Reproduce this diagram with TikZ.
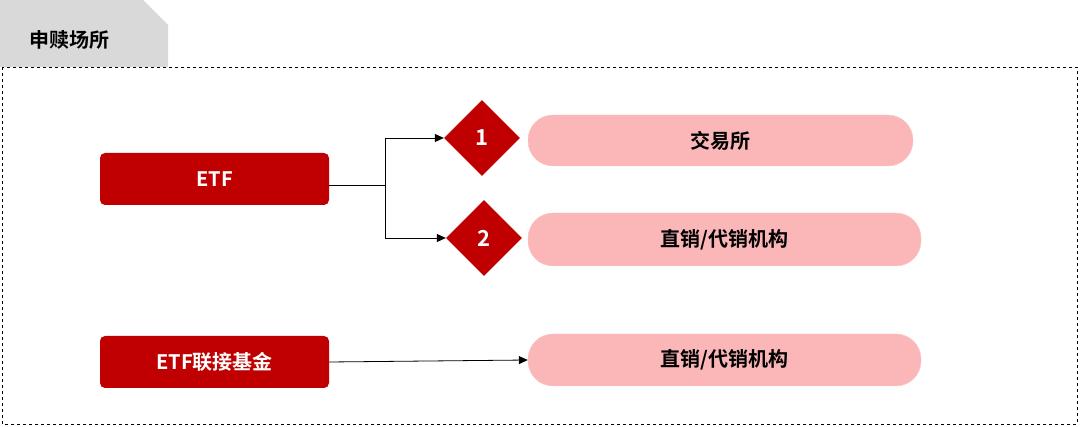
\documentclass[tikz,border=0pt]{standalone}
\usepackage{fontspec}
\setmainfont{Noto Sans CJK SC}[BoldFont={Noto Sans CJK SC Bold}]
\usetikzlibrary{shapes.geometric,arrows.meta}
\definecolor{dred}{HTML}{C00000}
\definecolor{lpink}{HTML}{FBB6B8}
\begin{document}
\begin{tikzpicture}[x=1pt,y=-1pt,
  redbox/.style={draw=none,fill=dred,rounded corners=5pt,text=white,font=\bfseries\fontsize{20}{24}\selectfont},
  pill/.style={fill=lpink,draw=lpink!80!white,rounded corners=25pt,font=\bfseries\fontsize{20}{24}\selectfont},
  dia/.style={diamond,fill=dred,draw=none,minimum width=76pt,minimum height=76pt,inner sep=0pt,text=white,font=\bfseries\fontsize{22}{26}\selectfont},
  conn/.style={-{Triangle[length=9pt,width=8pt]},line width=0.8pt}]
\useasboundingbox (0,0) rectangle (1080,427);
\fill[gray!30] (0,0) -- (143,0) -- (168,25) -- (168,67) -- (0,67) -- cycle;
\node[font=\bfseries\fontsize{20}{24}\selectfont,anchor=west] (tab) at (26,40) {申赎场所};
\draw[dashed,line width=0.6pt] (2,67) rectangle (1077,424);
\node[redbox,minimum width=229pt,minimum height=52pt] (etf) at (214.5,179) {ETF};
\node[redbox,minimum width=229pt,minimum height=52pt] (lj) at (214.5,362) {ETF联接基金};
\node[dia] (d1) at (482,138) {1};
\node[dia] (d2) at (484,238) {2};
\node[pill,minimum width=385pt,minimum height=51pt] (p1) at (720.5,140.5) {交易所};
\node[pill,minimum width=393pt,minimum height=53pt] (p2) at (724.5,239.5) {直销/代销机构};
\node[pill,minimum width=393pt,minimum height=52pt] (p3) at (724.5,360) {直销/代销机构};
\coordinate (b) at (385,185);
\draw[line width=0.8pt] (etf.east |- b) -- (b);
\draw[conn] (b) |- (d1.west);
\draw[conn] (b) |- (d2.west);
\draw[conn] (lj.east) -- (p3.west);
\end{tikzpicture}
\end{document}
